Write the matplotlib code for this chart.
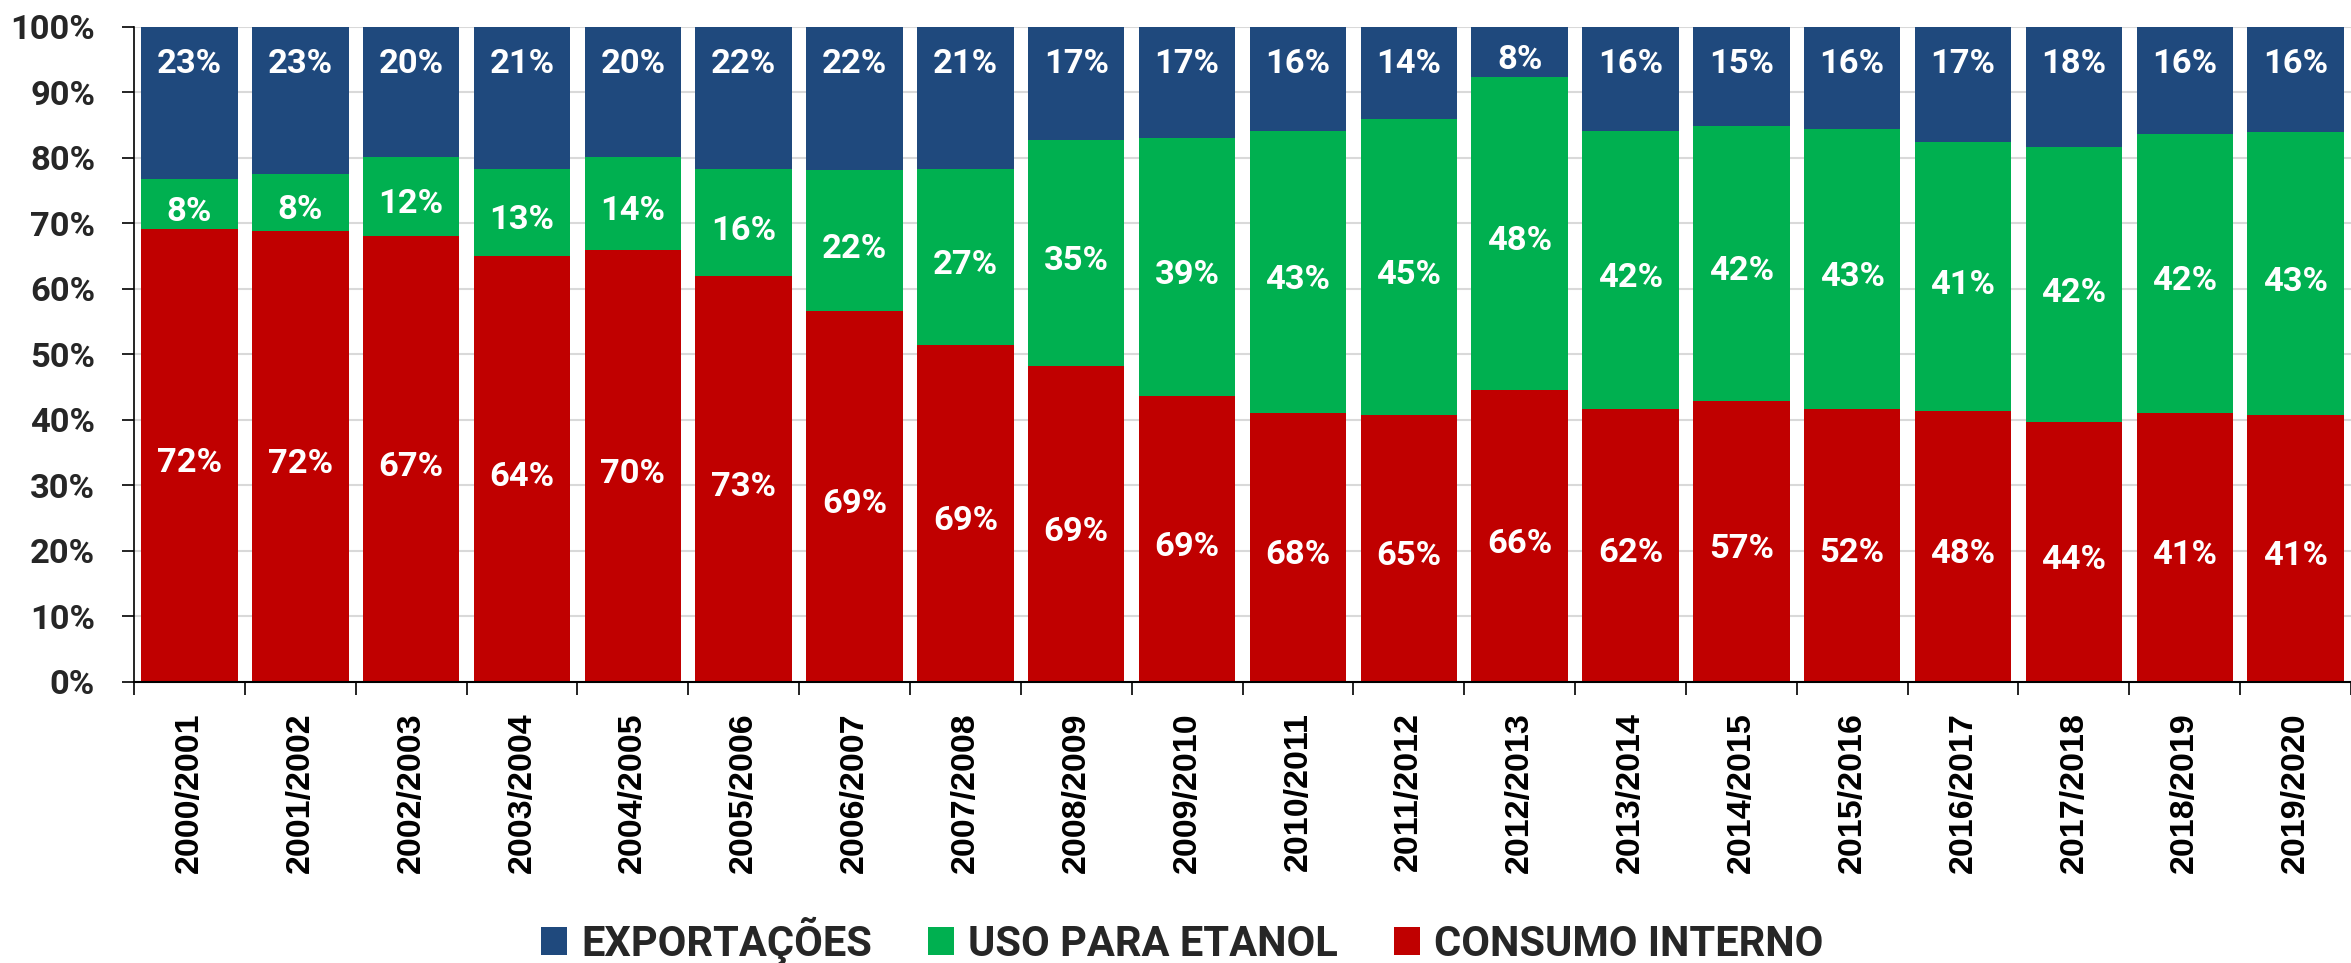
import matplotlib
matplotlib.use("Agg")
import matplotlib.pyplot as plt
import numpy as np

plt.rcParams["font.family"] = ["Roboto", "DejaVu Sans"]

safras = [
    "2000/2001", "2001/2002", "2002/2003", "2003/2004", "2004/2005",
    "2005/2006", "2006/2007", "2007/2008", "2008/2009", "2009/2010",
    "2010/2011", "2011/2012", "2012/2013", "2013/2014", "2014/2015",
    "2015/2016", "2016/2017", "2017/2018", "2018/2019", "2019/2020",
]

# bar segment shares (%) as drawn
consumo = [69.2, 68.9, 68.1, 65.1, 65.9, 61.9, 56.6, 51.4, 48.2, 43.7,
           41.0, 40.7, 44.5, 41.6, 42.9, 41.6, 41.3, 39.6, 41.0, 40.7]
etanol = [7.6, 8.6, 12.1, 13.2, 14.3, 16.4, 21.5, 26.9, 34.5, 39.3,
          43.1, 45.3, 47.9, 42.5, 42.0, 42.8, 41.1, 42.1, 42.7, 43.2]
exportacoes = [23.2, 22.5, 19.8, 21.7, 19.8, 21.7, 21.9, 21.7, 17.3, 17.0,
               15.9, 14.0, 7.6, 15.9, 15.1, 15.6, 17.6, 18.3, 16.3, 16.1]

# data labels as printed on the chart
rot_consumo = [72, 72, 67, 64, 70, 73, 69, 69, 69, 69,
               68, 65, 66, 62, 57, 52, 48, 44, 41, 41]
rot_etanol = [8, 8, 12, 13, 14, 16, 22, 27, 35, 39,
              43, 45, 48, 42, 42, 43, 41, 42, 42, 43]
rot_export = [23, 23, 20, 21, 20, 22, 22, 21, 17, 17,
              16, 14, 8, 16, 15, 16, 17, 18, 16, 16]

RED = "#C00000"
GREEN = "#00B050"
BLUE = "#1F497D"
TXT = "#262626"

fig = plt.figure(figsize=(23.51, 9.63), dpi=100)
ax = fig.add_axes([0.057, 0.292, 0.943, 0.680])

x = np.arange(len(safras))
cons = np.array(consumo)
etan = np.array(etanol)
expo = np.array(exportacoes)
w = 0.87

ax.bar(x, cons, w, color=RED, label="CONSUMO INTERNO", zorder=2)
ax.bar(x, etan, w, bottom=cons, color=GREEN, label="USO PARA ETANOL", zorder=2)
ax.bar(x, expo, w, bottom=cons + etan, color=BLUE, label="EXPORTAÇÕES", zorder=2)

lab = dict(ha="center", va="center", color="white", fontsize=24.8,
           fontweight="bold", zorder=3)
dy = -1.2  # small visual offset so text sits like the original
for i in x:
    ax.text(i, cons[i] / 2 + dy, f"{rot_consumo[i]}%", **lab)
    ax.text(i, cons[i] + etan[i] / 2 + dy, f"{rot_etanol[i]}%", **lab)
    top = cons[i] + etan[i]
    ax.text(i, 100 - min(4.5, (100 - top) / 2) + dy, f"{rot_export[i]}%", **lab)

ax.set_ylim(0, 100)
ax.set_xlim(-0.5, 19.42)
ax.set_yticks(np.arange(0, 101, 10))
ax.set_yticklabels([f"{v}%" for v in range(0, 101, 10)], fontweight="bold")
ax.tick_params(axis="y", length=9, width=1.2, pad=19, labelsize=24.8,
               labelcolor=TXT)

ax.set_xticks(np.arange(-0.5, len(safras), 1.0))
ax.set_xticklabels([])
ax.tick_params(axis="x", which="major", length=9, width=1.2)
ax.set_xticks(x, safras, minor=True, rotation=90, fontsize=24.5,
              fontweight="bold", family=["Liberation Sans", "DejaVu Sans"],
              color="black", va="top")
ax.tick_params(axis="x", which="minor", length=0, pad=22)

ax.yaxis.grid(True, color="#d9d9d9", linewidth=1.5)
ax.set_axisbelow(True)
for s in ["top", "right"]:
    ax.spines[s].set_visible(False)
ax.spines["left"].set_linewidth(1.2)
ax.spines["bottom"].set_linewidth(1.5)

h, l = ax.get_legend_handles_labels()
leg = fig.legend(h[::-1], l[::-1], loc="center", bbox_to_anchor=(0.503, 0.023),
                 ncol=3, frameon=False, fontsize=30, handlelength=0.62,
                 handleheight=0.65, handletextpad=0.34, columnspacing=1.35)
for t in leg.get_texts():
    t.set_color(TXT)
    t.set_fontweight("bold")

fig.savefig("out.png", dpi=100)
